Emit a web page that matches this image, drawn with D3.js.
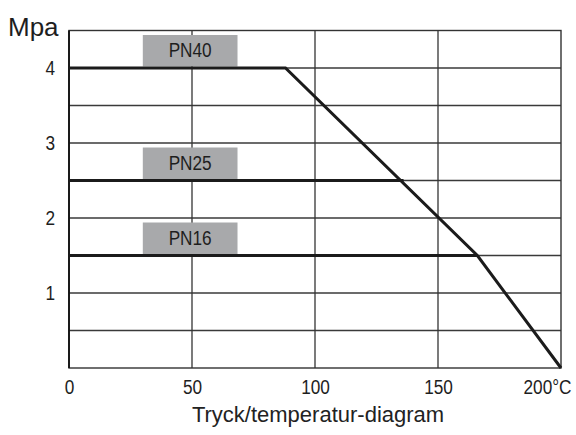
<html>
<head>
<script src="https://cdn.jsdelivr.net/npm/d3@7"></script>
<style>
  body { margin: 0; background: #fff; }
  .narrow { font-family: "Liberation Sans", Arial, sans-serif; }
  .tick text { font-family: "Liberation Sans", Arial, sans-serif; font-size: 20px; fill: #1e1e1e; }
</style>
</head>
<body>
<svg id="chart" width="576" height="435"></svg>
<script>
// data
var xTicks = [0, 50, 100, 150, 200];
var yTicks = [1, 2, 3, 4];
var gridY = [0.5, 1, 1.5, 2, 2.5, 3, 3.5, 4];
var limitTemp = [0, 88, 166, 200];      // PN40 curve, temperature
var limitPress = [4, 4, 1.5, 0];        // PN40 curve, pressure
var pn25Temp = [0, 136];
var pn25Press = [2.5, 2.5];
var pn16Temp = [0, 166];
var pn16Press = [1.5, 1.5];
var labels = ["PN40", "PN25", "PN16"];
var labelLevels = [4, 2.5, 1.5];

var svg = d3.select("#chart");
var pLeft = 69, pRight = 561, pTop = 30.5, pBottom = 368;

var x = d3.scaleLinear().domain([0, 200]).range([pLeft, pRight]);
var y = d3.scaleLinear().domain([0, 4.5]).range([pBottom, pTop]);

// grid
var grid = svg.append("g");
grid.selectAll(".gy").data(gridY).enter().append("line")
    .attr("x1", pLeft).attr("x2", pRight)
    .attr("y1", function(d) { return y(d); })
    .attr("y2", function(d) { return y(d); })
    .attr("stroke", "#3a3a3a").attr("stroke-width", 1.3);
grid.selectAll(".gx").data([50, 100, 150]).enter().append("line")
    .attr("y1", pTop).attr("y2", pBottom)
    .attr("x1", function(d) { return x(d); })
    .attr("x2", function(d) { return x(d); })
    .attr("stroke", "#333").attr("stroke-width", 1.3);

// frame
svg.append("rect")
    .attr("x", pLeft).attr("y", pTop)
    .attr("width", pRight - pLeft).attr("height", pBottom - pTop)
    .attr("fill", "none").attr("stroke", "#333").attr("stroke-width", 1.4);
svg.append("line")
    .attr("x1", pLeft).attr("x2", pLeft).attr("y1", pTop).attr("y2", pBottom)
    .attr("stroke", "#111").attr("stroke-width", 1.8);

// label boxes
var boxes = svg.append("g");
labels.forEach(function(name, i) {
    var yb = y(labelLevels[i]) - 1.5;
    boxes.append("rect")
        .attr("x", x(30)).attr("y", yb - 31.5)
        .attr("width", x(68.5) - x(30)).attr("height", 31.5)
        .attr("fill", "#a8a9ab");
    boxes.append("text")
        .attr("class", "narrow")
        .attr("x", (x(30) + x(68.5)) / 2).attr("y", yb - 9.5)
        .attr("text-anchor", "middle")
        .style("font-size", "20px").style("fill", "#1e1e1e")
        .text(name);
});

// lines
var line = d3.line()
    .x(function(d) { return x(d[0]); })
    .y(function(d) { return y(d[1]); });

[[limitTemp, limitPress], [pn25Temp, pn25Press], [pn16Temp, pn16Press]].forEach(function(s) {
    svg.append("path")
        .datum(d3.zip(s[0], s[1]))
        .attr("d", line)
        .attr("fill", "none")
        .attr("stroke", "#1b1b1b")
        .attr("stroke-width", 3)
        .attr("stroke-linejoin", "miter");
});

// axes
var yAxis = svg.append("g")
    .attr("transform", "translate(" + pLeft + ",0)")
    .call(d3.axisLeft(y).tickValues(yTicks).tickSize(0).tickPadding(14)
        .tickFormat(d3.format("d")));
yAxis.select(".domain").remove();

var xAxis = svg.append("g")
    .attr("transform", "translate(0," + pBottom + ")")
    .call(d3.axisBottom(x).tickValues(xTicks).tickSize(0).tickPadding(12)
        .tickFormat(function(d) { return d == 200 ? "200\u00B0C" : d; }));
xAxis.select(".domain").remove();
xAxis.selectAll(".tick text")
    .filter(function(d) { return d == 200; })
    .attr("text-anchor", "end")
    .attr("dx", 10);

// no condensed face installed: squeeze the glyphs instead
svg.selectAll(".tick text, text.narrow").each(function() {
    var len = this.getComputedTextLength();
    d3.select(this)
        .attr("textLength", len * 0.86)
        .attr("lengthAdjust", "spacingAndGlyphs");
});

// unit and caption
svg.append("text")
    .attr("x", 8).attr("y", 36)
    .style("font-family", "'Liberation Sans', Arial, sans-serif")
    .style("font-size", "26px").style("fill", "#1e1e1e")
    .text("Mpa");

svg.append("text")
    .attr("x", 318).attr("y", 422)
    .attr("text-anchor", "middle")
    .style("font-family", "'Liberation Sans', Arial, sans-serif")
    .style("font-size", "22px").style("fill", "#222")
    .text("Tryck/temperatur-diagram");
</script>
</body>
</html>
